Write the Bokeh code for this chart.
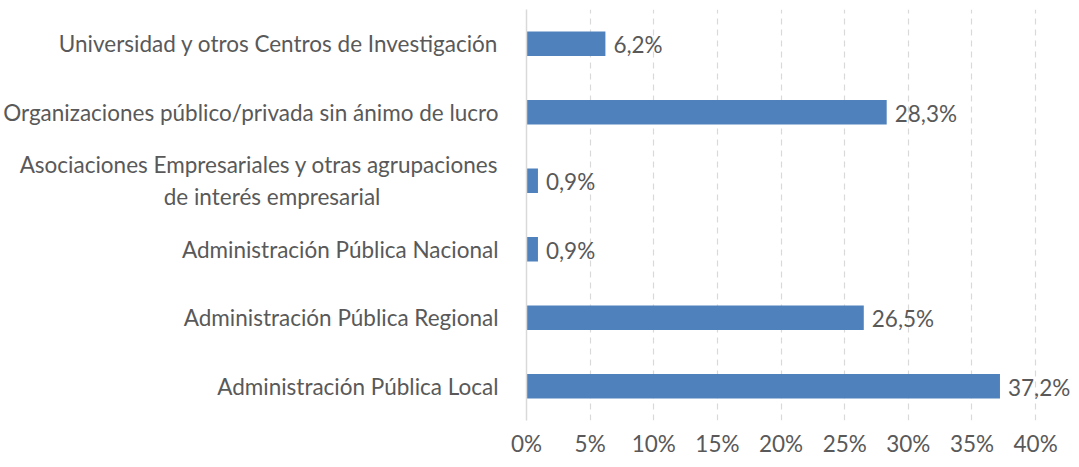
from bokeh.plotting import figure
from bokeh.models import ColumnDataSource, FixedTicker, CustomJSTickFormatter, LabelSet, Range1d, FactorRange
from bokeh.embed import file_html
from bokeh.resources import INLINE
from bokeh.core.properties import value

categories = [
    "Administración Pública Local",
    "Administración Pública Regional",
    "Administración Pública Nacional",
    "Asociaciones Empresariales y otras agrupaciones de interés empresarial",
    "Organizaciones público/privada sin ánimo de lucro",
    "Universidad y otros Centros de Investigación",
]
wrapped_cat = "Asociaciones Empresariales y otras agrupaciones de interés empresarial"
wrapped_lines = ["Asociaciones Empresariales y otras agrupaciones", "de interés empresarial"]
values = [37.2, 26.5, 0.9, 0.9, 28.3, 6.2]
labels = [f"{v:.1f}%".replace(".", ",") for v in values]
ticks = [0, 5, 10, 15, 20, 25, 30, 35, 40]

FONT = "Lato"
TXT = "#595959"
FS = "22.5px"

# second line padded on the right (em spaces) so it sits centred under the first
pad = "\u2003" * 7
wrapped_text = wrapped_lines[0] + "\n" + wrapped_lines[1] + pad

src = ColumnDataSource(dict(cat=categories, val=values, lab=labels))

p = figure(width=1071, height=459, y_range=FactorRange(*categories), x_range=Range1d(0, 42.82),
           output_backend="svg", toolbar_location=None,
           min_border_left=525, min_border_right=0, min_border_top=9, min_border_bottom=39)
p.hbar(y="cat", right="val", height=0.36, source=src, color="#4F81BD", line_color=None)
p.add_layout(LabelSet(x="val", y="cat", text="lab", source=src, x_offset=8, y_offset=-1,
                      text_baseline="middle", text_font=value(FONT), text_font_size=FS,
                      text_color=TXT))

p.yaxis.formatter = CustomJSTickFormatter(args=dict(w=wrapped_cat, t=wrapped_text),
                                          code="return tick == w ? t : tick;")

p.outline_line_color = None
p.xaxis.ticker = FixedTicker(ticks=ticks)
p.xaxis.formatter = CustomJSTickFormatter(code="return tick + '%';")
p.xaxis.axis_line_color = None
p.xaxis.major_tick_line_color = None
p.xaxis.minor_tick_line_color = None
p.xaxis.major_label_text_font = FONT
p.xaxis.major_label_text_font_size = FS
p.xaxis.major_label_text_color = TXT
p.xaxis.major_label_standoff = 3

p.yaxis.axis_line_color = "#D9D9D9"
p.yaxis.axis_line_width = 1.5
p.yaxis.major_tick_line_color = None
p.yaxis.minor_tick_line_color = None
p.yaxis.major_label_text_font = FONT
p.yaxis.major_label_text_font_size = FS
p.yaxis.major_label_text_color = TXT
p.yaxis.major_label_standoff = 22

p.ygrid.grid_line_color = None
p.xgrid.grid_line_color = "#D9D9D9"
p.xgrid.grid_line_dash = "6 5"
p.xgrid.grid_line_width = 1.2

open("out.html", "w").write(file_html(p, INLINE))
